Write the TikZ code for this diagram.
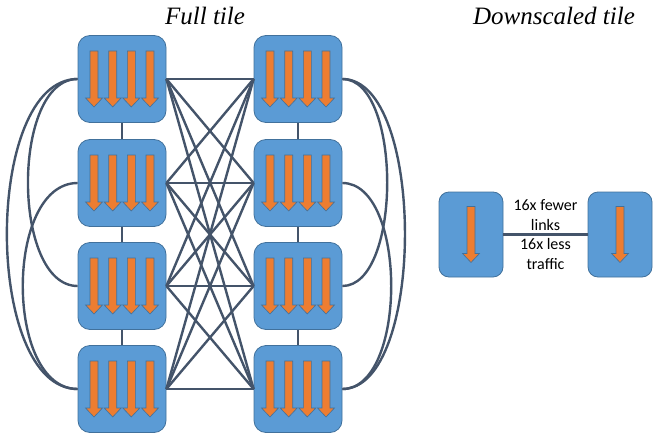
\documentclass[tikz,border=0pt]{standalone}
\usepackage{fontspec}
\setmainfont{Liberation Serif}
\newfontfamily\calibrifont{Carlito}
\definecolor{TileBlue}{HTML}{5B9BD5}
\definecolor{TileEdge}{HTML}{41719C}
\definecolor{CoreOrange}{HTML}{ED7D31}
\definecolor{LinkGray}{HTML}{44546A}
\usetikzlibrary{positioning}

\begin{document}
\begin{tikzpicture}[
  x=1pt,y=-1pt,
  tile/.style={
    draw=TileEdge,
    line width=0.8pt,
    fill=TileBlue,
    rounded corners=12pt,
    minimum width=88pt,
    minimum height=87pt,
    inner sep=0pt
  },
  smalltile/.style={tile,minimum width=64pt,minimum height=85pt,rounded corners=10pt},
  link/.style={draw=LinkGray,line width=2.4pt},
  title/.style={font=\fontsize{25}{30}\selectfont\itshape},
  note/.style={font=\calibrifont\fontsize{16}{19.5}\selectfont,align=center,inner sep=3pt},
  pics/core/.style={code={
    \draw[draw=TileEdge,line width=0.6pt,fill=CoreOrange]
      (-4,-28) -- (4,-28) -- (4,19) -- (8.5,19) -- (0,28) -- (-8.5,19) -- (-4,19) -- cycle;
  }}
]
\useasboundingbox (0,0) rectangle (653,436);

% titles
\node[title] (fulltitle) at (205,16) {Full tile};
\node[title] (downtitle) at (554,16) {Downscaled tile};

% full tile: two columns of four
\foreach \i/\y in {1/79,2/183,3/286,4/389} {
  \node[tile] (l\i) at (122,\y) {};
  \node[tile] (r\i) at (298,\y) {};
  \foreach \cx in {-28,-9.3,9.3,28} {
    \pic at (122+\cx,\y) {core};
    \pic at (298+\cx,\y) {core};
  }
}

% links inside each column
\foreach \i/\k in {1/2,2/3,3/4} {
  \draw[link] (l\i) -- (l\k);
  \draw[link] (r\i) -- (r\k);
}
\draw[link] (l1.west) to[out=180,in=180,looseness=0.82] (l3.west);
\draw[link] (l1.west) to[out=180,in=180,looseness=0.78] (l4.west);
\draw[link] (l2.west) to[out=180,in=180,looseness=0.91] (l4.west);
\draw[link] (r1.east) to[out=0,in=0,looseness=0.74] (r3.east);
\draw[link] (r1.east) to[out=0,in=0,looseness=0.69] (r4.east);
\draw[link] (r2.east) to[out=0,in=0,looseness=0.81] (r4.east);

% links between the columns
\foreach \i in {1,...,4}
  \foreach \j in {1,...,4}
    \draw[link] (l\i.east) -- (r\j.west);

% downscaled tile
\node[smalltile] (sl) at (471,234.5) {};
\node[smalltile] (sr) at (620,234.5) {};
\pic at (471,234.5) {core};
\pic at (620,234.5) {core};
\draw[link] (sl) -- node[note,above] {16x fewer\\links} node[note,below] {16x less\\traffic} (sr);
\end{tikzpicture}
\end{document}
